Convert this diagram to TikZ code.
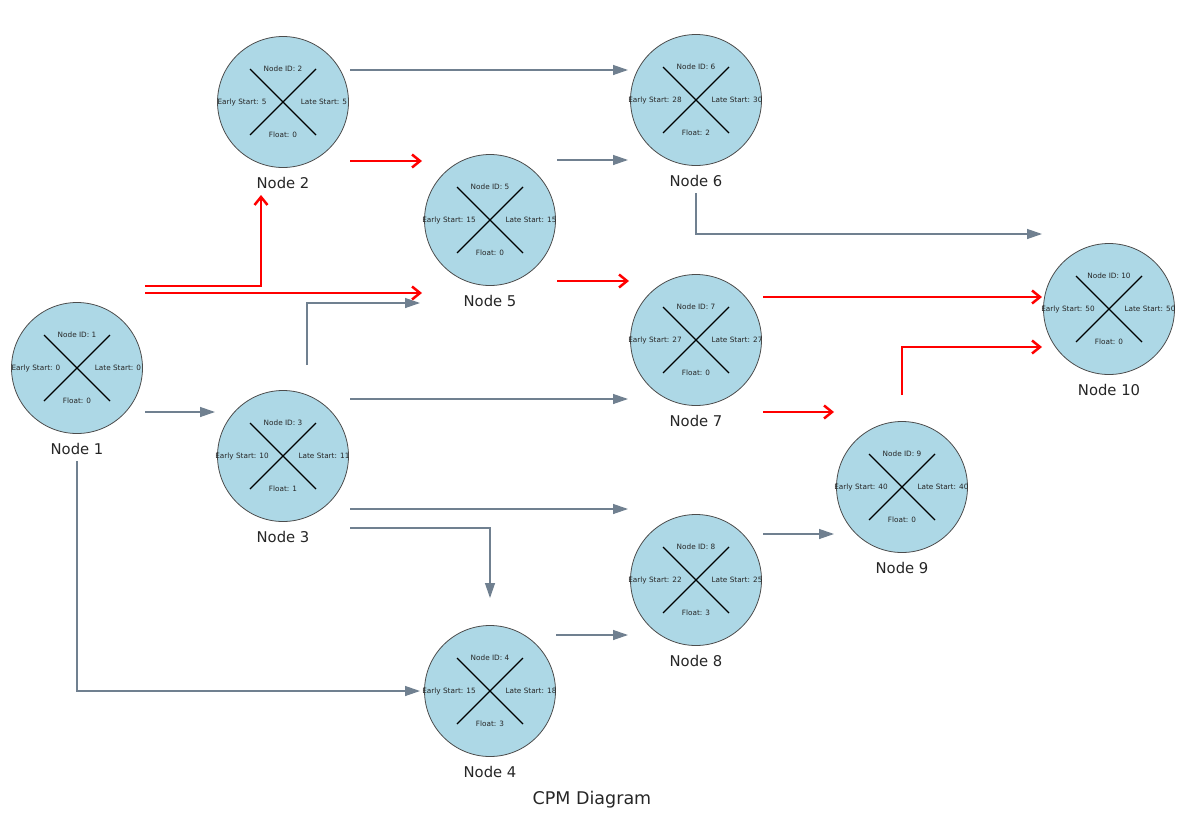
\documentclass[tikz,border=0pt]{standalone}
\usepackage{fontspec}
\setmainfont{DejaVu Sans}
\usetikzlibrary{arrows.meta}

\definecolor{nodefill}{HTML}{ADD8E6}
\definecolor{edgegray}{HTML}{708090}

\begin{document}
\begin{tikzpicture}[x=1pt, y=-1pt,
	cpm/.style={circle, draw=black!70, line width=0.8pt, fill=nodefill, minimum size=131pt, inner sep=0pt},
	infotext/.style={font=\fontsize{7.3}{8}\selectfont, text=black!85, inner sep=0pt},
	nodelabel/.style={font=\fontsize{14.8}{16}\selectfont, text=black!85, inner sep=0pt},
	flow/.style={edgegray, line width=1.3pt, -{Triangle[length=15pt,width=10pt]}},
	crit/.style={red, line width=2.5pt, -{Straight Barb[length=8pt,width=13pt]}}]

	\useasboundingbox (0,0) rectangle (1186,827);

	% activity nodes: id / x / y / early start / late start / float
	\foreach \i/\x/\y/\es/\ls/\fl in {1/77/368/0/0/0, 2/283/102/5/5/0, 3/283/456/10/11/1,
			4/490/691/15/18/3, 5/490/220/15/15/0, 6/696/100/28/30/2, 7/696/340/27/27/0,
			8/696/580/22/25/3, 9/902/487/40/40/0, 10/1109/309/50/50/0} {
		\node[cpm] (n\i) at (\x,\y) {};
		\draw[line width=1.3pt] ([shift={(-33,-33)}]n\i.center) -- ([shift={(33,33)}]n\i.center)
			([shift={(-33,33)}]n\i.center) -- ([shift={(33,-33)}]n\i.center);
		\node[infotext] at ([shift={(0,-33)}]n\i.center) {Node ID: \i};
		\node[infotext] at ([shift={(-41,0)}]n\i.center) {Early Start: \es};
		\node[infotext] at ([shift={(41,0)}]n\i.center) {Late Start: \ls};
		\node[infotext] at ([shift={(0,33)}]n\i.center) {Float: \fl};
		\node[nodelabel] (l\i) at ([shift={(0,81)}]n\i.center) {Node \i};
	}

	% normal activities
	\draw[flow] ([shift={(68,44)}]n1.center) -- ([shift={(-68,-44)}]n3.center);
	\draw[flow] ([shift={(0,93)}]n1.center) |- ([shift={(-70,0)}]n4.center);
	\draw[flow] ([shift={(67,-32)}]n2.center) -- ([shift={(-68,-30)}]n6.center);
	\draw[flow] ([shift={(67,-60)}]n5.center) -- ([shift={(-68,60)}]n6.center);
	\draw[flow] ([shift={(24,-91)}]n3.center) |- ([shift={(-70,83)}]n5.center);
	\draw[flow] ([shift={(67,-57)}]n3.center) -- ([shift={(-68,59)}]n7.center);
	\draw[flow] ([shift={(67,53)}]n3.center) -- ([shift={(-68,-71)}]n8.center);
	\draw[flow] ([shift={(67,72)}]n3.center) -| ([shift={(0,-93)}]n4.center);
	\draw[flow] ([shift={(66,-56)}]n4.center) -- ([shift={(-68,55)}]n8.center);
	\draw[flow] ([shift={(0,93)}]n6.center) |- ([shift={(-67,-75)}]n10.center);
	\draw[flow] ([shift={(67,-46)}]n8.center) -- ([shift={(-68,47)}]n9.center);

	% critical path
	\draw[crit] ([shift={(68,-82)}]n1.center) -| ([shift={(-22,93)}]n2.center);
	\draw[crit] ([shift={(68,-75)}]n1.center) -- ([shift={(-68,73)}]n5.center);
	\draw[crit] ([shift={(67,59)}]n2.center) -- ([shift={(-68,-59)}]n5.center);
	\draw[crit] ([shift={(67,61)}]n5.center) -- ([shift={(-67,-59)}]n7.center);
	\draw[crit] ([shift={(67,-43)}]n7.center) -- ([shift={(-67,-12)}]n10.center);
	\draw[crit] ([shift={(67,72)}]n7.center) -- ([shift={(-68,-75)}]n9.center);
	\draw[crit] ([shift={(0,-92)}]n9.center) |- ([shift={(-67,38)}]n10.center);

	\node[font=\fontsize{17.5}{20}\selectfont, text=black!85] (title) at (592,800) {CPM Diagram};
\end{tikzpicture}
\end{document}
